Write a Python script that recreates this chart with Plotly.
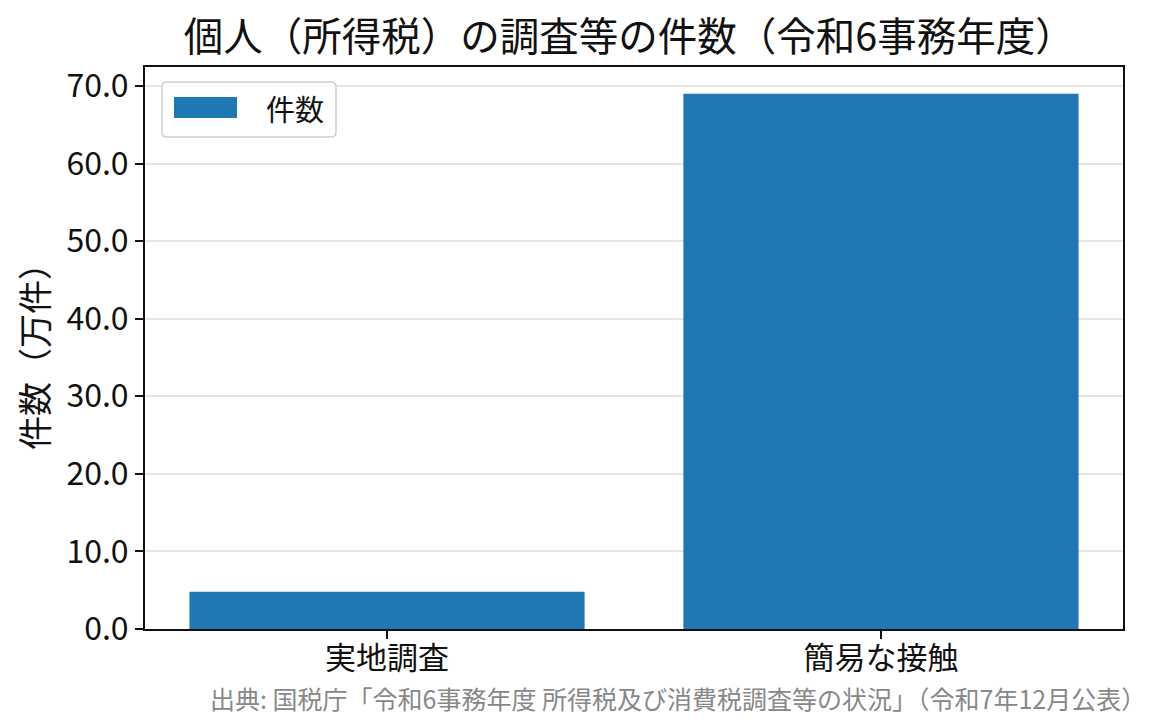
import plotly.graph_objects as go

categories = ["実地調査", "簡易な接触"]
counts = [4.8, 69.0]
series_name = "件数"
y_ticks = [0, 10, 20, 30, 40, 50, 60, 70]

FONT = "Noto Sans CJK JP"
BLUE = "#1f77b4"

fig = go.Figure()
fig.add_trace(go.Bar(
    x=categories, y=counts, name=series_name,
    marker=dict(color=BLUE, line=dict(width=0)),
    width=0.8, showlegend=False,
))

# page body has ~8px margin, so the figure is a bit smaller than the window
fig.update_layout(
    width=1157, height=717,
    paper_bgcolor="white", plot_bgcolor="white",
    font=dict(family=FONT, color="#111", size=32),
    margin=dict(l=137, r=42, t=59, b=96),
    title=dict(text="個人（所得税）の調査等の件数（令和6事務年度）",
               x=0.537, xanchor="center", y=0.96, yanchor="middle",
               font=dict(size=39.5, family=FONT, color="#111")),
    showlegend=False,
)
fig.update_xaxes(
    range=[-0.49, 1.49], showline=True, linecolor="#111", linewidth=2,
    mirror=True, ticks="outside", ticklen=8, tickwidth=2, tickcolor="#111",
    tickfont=dict(size=31), showgrid=False, ticklabelstandoff=-7,
)
fig.update_yaxes(
    range=[0, 72.45], tickvals=y_ticks, tickformat=".1f",
    showline=True, linecolor="#111", linewidth=2, mirror=True,
    ticks="outside", ticklen=8, tickwidth=2, tickcolor="#111",
    tickfont=dict(size=32),
    showgrid=True, gridcolor="#e6e6e6", gridwidth=1.5, zeroline=False,
    title=dict(text="件数（万件）", font=dict(size=34), standoff=8),
)

# legend box drawn by hand (matplotlib style wide patch)
fig.add_shape(
    type="path", xref="paper", yref="paper", xsizemode="pixel", ysizemode="pixel",
    xanchor=0, yanchor=1,
    path="M22,-15 H186 Q191,-15 191,-20 V-65 Q191,-70 186,-70 H22 Q17,-70 17,-65 V-20 Q17,-15 22,-15 Z",
    line=dict(color="#d0d0d0", width=1.5), fillcolor="rgba(255,255,255,0.8)",
)
fig.add_shape(
    type="rect", xref="paper", yref="paper", xsizemode="pixel", ysizemode="pixel",
    xanchor=0, yanchor=1, x0=29, x1=92, y0=-30, y1=-51,
    line=dict(width=0), fillcolor=BLUE,
)
fig.add_annotation(
    text=series_name, xref="paper", yref="paper", x=0, y=1, xshift=119, yshift=-41,
    xanchor="left", yanchor="middle", showarrow=False,
    font=dict(size=29, family=FONT, color="#111"),
)

fig.add_annotation(
    text="出典: 国税庁「令和6事務年度 所得税及び消費税調査等の状況」（令和7年12月公表）",
    xref="paper", yref="paper", x=1.0255, y=-0.123, xanchor="right", yanchor="middle",
    showarrow=False, font=dict(size=25, color="#888888", family=FONT),
)

fig.write_html("out.html")
